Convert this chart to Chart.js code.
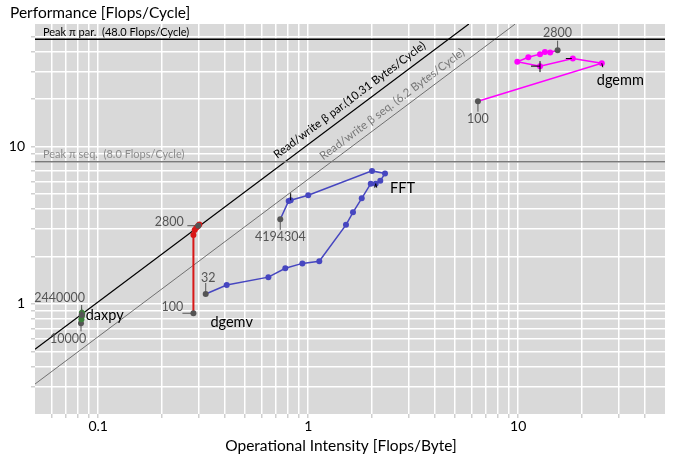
<!DOCTYPE html>
<html><head><meta charset="utf-8">
<script src="https://cdn.jsdelivr.net/npm/chart.js@4/dist/chart.umd.min.js"></script>
<style>html,body{margin:0;padding:0;background:#fff}canvas{display:block}</style>
</head><body>
<canvas id="c" width="673" height="462"></canvas>
<script>
// ---------- data ----------
const xGridTicks = [0.06,0.07,0.08,0.09,0.1,0.2,0.3,0.4,0.5,0.6,0.7,0.8,0.9,1,2,3,4,5,6,7,8,9,10,20,30,40];
const yGridTicks = [0.3,0.4,0.5,0.6,0.7,0.8,0.9,1,2,3,4,5,6,7,8,9,10,20,30,40,50];
const xTickLabels = [0.1, 1, 10];
const yTickLabels = [1, 10];

const peakPar = 48.0;   // Flops/Cycle
const peakSeq = 8.0;
const bwPar = 10.31;    // Bytes/Cycle
const bwSeq = 6.2;

const daxpyX = [0.0828, 0.0832, 0.0836, 0.0838, 0.0836, 0.0834];
const daxpyY = [0.753, 0.80, 0.84, 0.87, 0.88, 0.851];
const daxpySizes = ['10000', '2440000'];

const dgemvX = [0.284, 0.284, 0.288, 0.293, 0.298, 0.303, 0.2997];
const dgemvY = [0.873, 2.74, 2.95, 3.05, 3.12, 3.2, 3.14];
const dgemvSizes = ['100', '2800'];

const fftX = [0.325,0.409,0.646,0.778,0.938,1.129,1.513,1.634,1.798,1.985,2.096,2.204,2.321,2.013,1.00,0.825,0.807,0.736];
const fftY = [1.157,1.32,1.48,1.685,1.81,1.866,3.18,3.82,4.69,5.81,5.81,6.07,6.73,7.0,4.90,4.56,4.51,3.45];
const fftSizes = ['32', '4194304'];

const dgemmX = [6.43,25.0,18.2,12.7,9.90,11.17,12.7,13.4,14.2,15.4];
const dgemmY = [19.4,33.8,36.2,32.4,34.5,36.9,38.6,39.9,39.5,40.9];
const dgemmSizes = ['100', '2800'];

const X_MIN = 0.05, X_MAX = 50, Y_MIN = 0.2, Y_MAX = 60;

// ---------- helpers ----------
const FONT = 'Lato, "Open Sans", sans-serif';
const pts = (xs, ys) => xs.map((v, i) => ({x: v, y: ys[i]}));
const ENDC = '#555555';
function series(label, xs, ys, color, lw) {
  const n = xs.length;
  const ends = c => (c.dataIndex === 0 || c.dataIndex === n - 1) ? ENDC : color;
  return {
    label, data: pts(xs, ys), showLine: true, borderColor: color, borderWidth: lw || 1.5,
    pointRadius: 3, pointBackgroundColor: ends, pointBorderColor: ends, pointBorderWidth: 0,
    pointHoverRadius: 3
  };
}
function roofLine(label, data, color, width) {
  return {label, data, showLine: true, borderColor: color, borderWidth: width, pointRadius: 0, pointHoverRadius: 0};
}

// label layout (pixel offsets from a point)
const sizeLabels = [
  {ds: 0, idx: 'first', text: daxpySizes[0], dx: -13, dy: 16, tx: 0, ty: 8},
  {ds: 0, idx: 'last',  text: daxpySizes[1], dx: -22, dy: -17, tx: 0, ty: -10},
  {ds: 1, idx: 'first', text: dgemvSizes[0], dx: -21, dy: -6, tx: -11, ty: 0},
  {ds: 1, idx: 'last',  text: dgemvSizes[1], dx: -29, dy: -3.5, tx: -11, ty: 0},
  {ds: 2, idx: 'first', text: fftSizes[0], dx: 2.5, dy: -16.5, tx: 0, ty: -11},
  {ds: 2, idx: 'last',  text: fftSizes[1], dx: 0, dy: 18, tx: 0, ty: 10.5},
  {ds: 3, idx: 'first', text: dgemmSizes[0], dx: 0, dy: 17.7, tx: 0, ty: 10.5},
  {ds: 3, idx: 'last',  text: dgemmSizes[1], dx: 0, dy: -17.6, tx: 0, ty: -9.5}
];
const nameLabels = [
  {ds: 0, idx: 5, dx: 4, dy: 0.5},
  {ds: 1, idx: 0, dx: 17, dy: 9},
  {ds: 2, idx: 12, dx: 5, dy: 14.5},
  {ds: 3, idx: 1, dx: -5, dy: 17.5}
];
// small black marker ticks next to some points
const blackMarks = [
  {ds: 2, idx: 15, segs: [[0, -7, 0, 0]]},
  {ds: 2, idx: 10, segs: [[-1, 4, 0, 0], [0, 0, 1, 4]]},
  {ds: 3, idx: 3, segs: [[-9, 0, 0, 0], [0, -5, 0, 6]]},
  {ds: 3, idx: 2, segs: [[-7, 0, -1, 0]]},
  {ds: 3, idx: 1, segs: [[0, 0, 1, 4]]}
];

const bgPlugin = {
  id: 'bg',
  beforeDraw(chart) {
    const {ctx, chartArea: a} = chart;
    ctx.save();
    ctx.fillStyle = '#d9d9d9';
    ctx.fillRect(a.left, a.top, a.right - a.left, a.bottom - a.top);
    ctx.restore();
  }
};

const overlay = {
  id: 'overlay',
  afterDatasetsDraw(chart) {
    const {ctx, chartArea: a, scales: {x, y}} = chart;
    ctx.save();
    // titles
    ctx.fillStyle = '#000';
    ctx.textBaseline = 'middle';
    ctx.textAlign = 'left';
    ctx.font = '15.5px ' + FONT;
    ctx.fillText('Performance [Flops/Cycle]', 10, 13);
    ctx.textAlign = 'center';
    ctx.fillText('Operational Intensity [Flops/Byte]', 341, 446);

    // peak labels
    ctx.save();
    ctx.beginPath(); ctx.rect(a.left, a.top, a.right - a.left, a.bottom - a.top); ctx.clip();
    ctx.textAlign = 'left';
    ctx.textBaseline = 'alphabetic';
    ctx.font = '11px ' + FONT;
    ctx.fillStyle = '#000';
    ctx.fillText('Peak \u03c0 par.  (' + peakPar.toFixed(1) + ' Flops/Cycle)', a.left + 8, y.getPixelForValue(peakPar) - 3);
    ctx.fillStyle = '#8c8c8c';
    ctx.fillText('Peak \u03c0 seq.  (' + peakSeq.toFixed(1) + ' Flops/Cycle)', a.left + 8, y.getPixelForValue(peakSeq) - 3.5);

    // diagonal labels
    const diag = (bw, x0, text, color, off) => {
      const p1x = x.getPixelForValue(x0), p1y = y.getPixelForValue(bw * x0);
      const p2x = x.getPixelForValue(x0 * 2), p2y = y.getPixelForValue(bw * x0 * 2);
      const ang = Math.atan2(p2y - p1y, p2x - p1x);
      ctx.save();
      ctx.translate(p1x, p1y);
      ctx.rotate(ang);
      ctx.fillStyle = color;
      ctx.font = '11.5px ' + FONT;
      ctx.fillText(text, 0, -off);
      ctx.restore();
    };
    diag(bwPar, 0.745, 'Read/write \u03b2 par.(' + bwPar + ' Bytes/Cycle)', '#000', 7);
    diag(bwSeq, 1.227, 'Read/write \u03b2 seq. (' + bwSeq + ' Bytes/Cycle)', '#777', 6);
    ctx.restore();

    // black marker ticks
    ctx.strokeStyle = '#000';
    ctx.lineWidth = 1;
    blackMarks.forEach(m => {
      const p = chart.getDatasetMeta(m.ds).data[m.idx];
      m.segs.forEach(s => {
        ctx.beginPath();
        ctx.moveTo(p.x + s[0], p.y + s[1]);
        ctx.lineTo(p.x + s[2], p.y + s[3]);
        ctx.stroke();
      });
    });

    // size labels with tick lines
    ctx.font = '12.5px ' + FONT;
    ctx.fillStyle = '#555';
    ctx.strokeStyle = '#555';
    ctx.lineWidth = 1;
    ctx.textAlign = 'center';
    ctx.textBaseline = 'middle';
    sizeLabels.forEach(l => {
      const meta = chart.getDatasetMeta(l.ds);
      const i = l.idx === 'first' ? 0 : meta.data.length - 1;
      const p = meta.data[i];
      ctx.beginPath();
      ctx.moveTo(p.x, p.y);
      ctx.lineTo(p.x + l.tx, p.y + l.ty);
      ctx.stroke();
      ctx.fillText(l.text, p.x + l.dx, p.y + l.dy);
    });

    // series names
    ctx.font = '14.5px ' + FONT;
    ctx.fillStyle = '#000';
    ctx.textAlign = 'left';
    nameLabels.forEach(l => {
      const meta = chart.getDatasetMeta(l.ds);
      const p = meta.data[l.idx];
      ctx.fillText(chart.data.datasets[l.ds].label, p.x + l.dx, p.y + l.dy);
    });
    ctx.restore();
  }
};

Chart.defaults.font.family = FONT;

new Chart(document.getElementById('c'), {
  type: 'scatter',
  data: {
    datasets: [
      series('daxpy', daxpyX, daxpyY, '#3a803a', 2.5),
      series('dgemv', dgemvX, dgemvY, '#d81818', 2),
      series('FFT', fftX, fftY, '#4646c0', 1.5),
      series('dgemm', dgemmX, dgemmY, '#ff00ff', 1.5),
      roofLine('peakPar', [{x: X_MIN, y: peakPar}, {x: X_MAX, y: peakPar}], '#000', 1.3),
      roofLine('peakSeq', [{x: X_MIN, y: peakSeq}, {x: X_MAX, y: peakSeq}], '#7a7a7a', 1.3),
      roofLine('bwPar', [{x: X_MIN, y: X_MIN * bwPar}, {x: Y_MAX / bwPar, y: Y_MAX}], '#000', 1.2),
      roofLine('bwSeq', [{x: X_MIN, y: X_MIN * bwSeq}, {x: Y_MAX / bwSeq, y: Y_MAX}], '#707070', 1.0)
    ]
  },
  options: {
    responsive: false,
    animation: false,
    events: [],
    layout: {padding: {left: 0, right: 8, top: 24, bottom: 0}},
    plugins: {legend: {display: false}, tooltip: {enabled: false}},
    scales: {
      x: {
        type: 'logarithmic', min: X_MIN, max: X_MAX,
        afterBuildTicks: s => { s.ticks = xGridTicks.map(v => ({value: v})); },
        afterFit: s => { s.height = 48; },
        border: {display: false},
        grid: {color: '#ffffff', lineWidth: 1.5, tickLength: 4, tickColor: '#cfcfcf'},
        ticks: {
          autoSkip: false, maxRotation: 0, padding: 0, color: '#000',
          font: {size: 14, family: FONT},
          callback: v => xTickLabels.includes(v) ? String(v) : ''
        }
      },
      y: {
        type: 'logarithmic', min: Y_MIN, max: Y_MAX,
        afterBuildTicks: s => { s.ticks = yGridTicks.map(v => ({value: v})); },
        afterFit: s => { s.width = 35; },
        border: {display: false},
        grid: {color: '#ffffff', lineWidth: 1.5, tickLength: 4, tickColor: '#cfcfcf'},
        ticks: {
          autoSkip: false, padding: 6, color: '#000',
          font: {size: 14, family: FONT},
          callback: v => yTickLabels.includes(v) ? String(v) : ''
        }
      }
    }
  },
  plugins: [bgPlugin, overlay]
});
</script>
</body></html>
